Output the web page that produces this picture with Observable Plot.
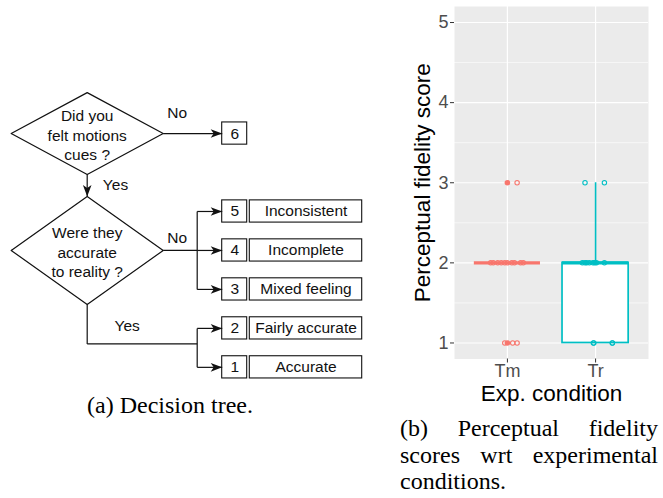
<!DOCTYPE html>
<html><head><meta charset="utf-8">
<script src="https://cdn.jsdelivr.net/npm/d3@7"></script>
<script src="https://cdn.jsdelivr.net/npm/@observablehq/plot@0.6"></script>
<style>
html,body{margin:0;padding:0;background:#fff;}
#page{position:relative;width:663px;height:498px;overflow:hidden;background:#fff;}
#tree{position:absolute;left:0;top:0;}
#box{position:absolute;left:390px;top:0;}
.cap{position:absolute;font-family:"Liberation Serif","Times New Roman",serif;font-size:24px;color:#000;line-height:26.7px;white-space:nowrap;}
#capA{left:0;width:340px;text-align:center;top:392px;}
#capB{left:400px;width:258px;top:415px;}
#capB div{text-align:justify;text-align-last:justify;}
#capB div.last{text-align:left;text-align-last:left;}
</style></head>
<body>
<div id="page">
  <div id="tree"></div>
  <div id="box"></div>
  <div class="cap" id="capA">(a) Decision tree.</div>
  <div class="cap" id="capB"><div>(b) Perceptual fidelity</div><div>scores wrt experimental</div><div class="last">conditions.</div></div>
</div>
<script>
// ---------------- Decision tree content ----------------
const questions = ["Did you\nfelt motions\ncues ?", "Were they\naccurate\nto reality ?"];
const answerLabels = ["No", "Yes", "No", "Yes"];
const scores = [6, 5, 4, 3, 2, 1];
const scoreLabels = [null, "Inconsistent", "Incomplete", "Mixed feeling", "Fairly accurate", "Accurate"];

// ---------------- Box plot data ----------------
const conditions = ["Tm", "Tr"];
const conditionColors = ["#F8766D", "#00BFC4"];
const yTicks = [1, 2, 3, 4, 5];
// jittered observations (horizontal position in category units, score)
const tmJitterX = [1.11, 0.81, 0.84, 0.89, 0.93, 0.97, 1.00, 1.05, 1.08, 1.15, 1.18, 0.97, 1.06, 1.11];
const tmScores  = [3,    2,    2,    2,    2,    2,    2,    2,    2,    2,    2,    1,    1,    1];
const trJitterX = [1.88, 2.10, 1.85, 1.88, 1.90, 1.93, 1.97, 1.99, 2.01, 2.10, 1.975, 1.98, 2.19, 2.19];
const trScores  = [3,    3,    2,    2,    2,    2,    2,    2,    2,    2,    1,     1,    1,    1];
// box summaries
const boxQ1 = [2, 1];
const boxMedian = [2, 2];
const boxQ3 = [2, 2];
const whiskerLow = [2, 1];
const whiskerHigh = [2, 3];
const outlierCondition = ["Tm", "Tm"];
const outlierScores = [1, 3];

// ================= Decision tree =================
const LX = {dCx: 86.7, dHalfW: 76, junction: 196.7, box1: 221.7, box2: 246.7, lab1: 249.3, lab2: 361.7};
const questionRows = [0, 3];
const questionHalfH = [1.05, 1.386];
const outcomeRows = [0, 2, 3, 4, 5, 6];
const yesJoinRow = 5.40;
const boxHalf = 0.285;

const diamondPts = [];
questions.forEach((q, i) => {
  const r = questionRows[i], h = questionHalfH[i];
  [[LX.dCx - LX.dHalfW, r], [LX.dCx, r - h], [LX.dCx + LX.dHalfW, r], [LX.dCx, r + h], [LX.dCx - LX.dHalfW, r]]
    .forEach(([x, y]) => diamondPts.push({q: i, x, y}));
});
const d2Bottom = questionRows[1] + questionHalfH[1];
const segs = [
  {x1: LX.dCx + LX.dHalfW, y1: 0, x2: LX.box1, y2: 0},
  {x1: LX.dCx, y1: questionHalfH[0], x2: LX.dCx, y2: questionRows[1] - questionHalfH[1]},
  {x1: LX.dCx + LX.dHalfW, y1: 3, x2: LX.junction, y2: 3},
  {x1: LX.junction, y1: 2, x2: LX.junction, y2: 4},
  {x1: LX.dCx, y1: d2Bottom, x2: LX.dCx, y2: yesJoinRow},
  {x1: LX.dCx, y1: yesJoinRow, x2: LX.junction, y2: yesJoinRow},
  {x1: LX.junction, y1: 5, x2: LX.junction, y2: 6}
];
outcomeRows.slice(1).forEach(r => segs.push({x1: LX.junction, y1: r, x2: LX.box1, y2: r}));
const tips = outcomeRows.map(r => ({x: LX.box1, y: r, a: 0}));
tips.push({x: LX.dCx, y: questionRows[1] - questionHalfH[1], a: 90});

const outcomes = scores.map((s, i) => ({score: s, label: scoreLabels[i], row: outcomeRows[i]}));
const answerPos = [{x: 176.7, y: -0.53}, {x: 115, y: 1.33}, {x: 176.7, y: 2.67}, {x: 126.7, y: 4.94}];
const answers = answerLabels.map((t, i) => ({t, ...answerPos[i]}));

const arrowHead = {draw(ctx) { ctx.moveTo(0, 0); ctx.lineTo(-11.5, -4.3); ctx.lineTo(-8.5, 0); ctx.lineTo(-11.5, 4.3); ctx.closePath(); }};
const ink = "#111";
const sans = "'Liberation Sans', Arial, sans-serif";

const tree = Plot.plot({
  width: 380, height: 400, margin: 0,
  x: {domain: [0, 380], range: [0, 380], axis: null},
  y: {domain: [0, 6], range: [133.05, 366.85], axis: null},
  style: {fontFamily: sans, background: "transparent", color: ink},
  marks: [
    Plot.line(diamondPts, {x: "x", y: "y", z: "q", stroke: ink, strokeWidth: 1.2}),
    Plot.link(segs, {x1: "x1", y1: "y1", x2: "x2", y2: "y2", stroke: ink, strokeWidth: 1.2}),
    Plot.dot(tips, {x: "x", y: "y", rotate: "a", symbol: arrowHead, fill: ink, stroke: "none"}),
    Plot.rect(outcomes, {x1: LX.box1, x2: LX.box2, y1: d => d.row - boxHalf, y2: d => d.row + boxHalf, fill: "none", stroke: ink, strokeWidth: 1.1}),
    Plot.rect(outcomes.filter(d => d.label), {x1: LX.lab1, x2: LX.lab2, y1: d => d.row - boxHalf, y2: d => d.row + boxHalf, fill: "none", stroke: ink, strokeWidth: 1.1}),
    Plot.text(outcomes, {x: (LX.box1 + LX.box2) / 2, y: "row", text: d => String(d.score), fontSize: 15.5, fill: ink}),
    Plot.text(outcomes.filter(d => d.label), {x: (LX.lab1 + LX.lab2) / 2, y: "row", text: "label", fontSize: 15.5, fill: ink}),
    Plot.text(questions.map((q, i) => ({q, row: questionRows[i]})), {x: LX.dCx, y: "row", text: "q", fontSize: 15.5, lineHeight: 1.24, dy: 1, fill: ink}),
    Plot.text(answers, {x: "x", y: "y", text: "t", fontSize: 15.5, fill: ink})
  ]
});
document.getElementById("tree").append(tree);

// ================= Box plot =================
const points = [
  ...tmJitterX.map((x, i) => ({cond: "Tm", x, y: tmScores[i]})),
  ...trJitterX.map((x, i) => ({cond: "Tr", x, y: trScores[i]}))
];
const boxes = conditions.map((c, i) => ({cond: c, x: i + 1, q1: boxQ1[i], med: boxMedian[i], q3: boxQ3[i], lo: whiskerLow[i], hi: whiskerHigh[i]}));
const outliers = outlierCondition.map((c, i) => ({cond: c, x: conditions.indexOf(c) + 1, y: outlierScores[i]}));
const minorY = yTicks.slice(0, -1).map(v => v + 0.5);
const half = 0.375;

const box = Plot.plot({
  width: 273, height: 410,
  marginLeft: 64, marginRight: 15, marginTop: 6, marginBottom: 51.5,
  x: {domain: [0.4, 2.6]},
  y: {domain: [0.8, 5.2]},
  color: {domain: conditions, range: conditionColors},
  style: {fontFamily: sans, background: "transparent", color: "#4D4D4D"},
  marks: [
    Plot.frame({fill: "#EBEBEB", stroke: "none"}),
    Plot.ruleY(minorY, {stroke: "white", strokeWidth: 0.6}),
    Plot.ruleY(yTicks, {stroke: "white", strokeWidth: 1.2}),
    Plot.ruleX([1, 2], {stroke: "white", strokeWidth: 1.2}),
    Plot.axisY({ticks: yTicks, tickFormat: d => String(d), tickSize: 4, tickPadding: 2, fontSize: 18, label: null, stroke: "#333"}),
    Plot.axisX({ticks: [1, 2], tickFormat: d => conditions[d - 1], tickSize: 4, tickPadding: 1, fontSize: 18, label: null, stroke: "#333"}),
    Plot.ruleX(boxes, {x: "x", y1: "q3", y2: "hi", stroke: "cond", strokeWidth: 1.6}),
    Plot.ruleX(boxes, {x: "x", y1: "q1", y2: "lo", stroke: "cond", strokeWidth: 1.6}),
    Plot.rect(boxes, {x1: d => d.x - half, x2: d => d.x + half, y1: "q1", y2: "q3", fill: "white", stroke: "cond", strokeWidth: 1.7}),
    Plot.ruleY(boxes, {y: "med", x1: d => d.x - half, x2: d => d.x + half, stroke: "cond", strokeWidth: 3.2}),
    Plot.dot(outliers, {x: "x", y: "y", fill: "cond", stroke: "none", r: 2.8}),
    Plot.dot(points, {x: "x", y: "y", stroke: "cond", fill: "none", r: 2.2, strokeWidth: 1.1}),
    Plot.text(["Perceptual fidelity score"], {frameAnchor: "left", textAnchor: "middle", lineAnchor: "middle", rotate: -90, dx: -32, fontSize: 22.5, fill: "#000"}),
    Plot.text(["Exp. condition"], {frameAnchor: "bottom", textAnchor: "middle", lineAnchor: "middle", dy: 34.5, fontSize: 22.5, fill: "#000"})
  ]
});
document.getElementById("box").append(box);
</script>
</body></html>
